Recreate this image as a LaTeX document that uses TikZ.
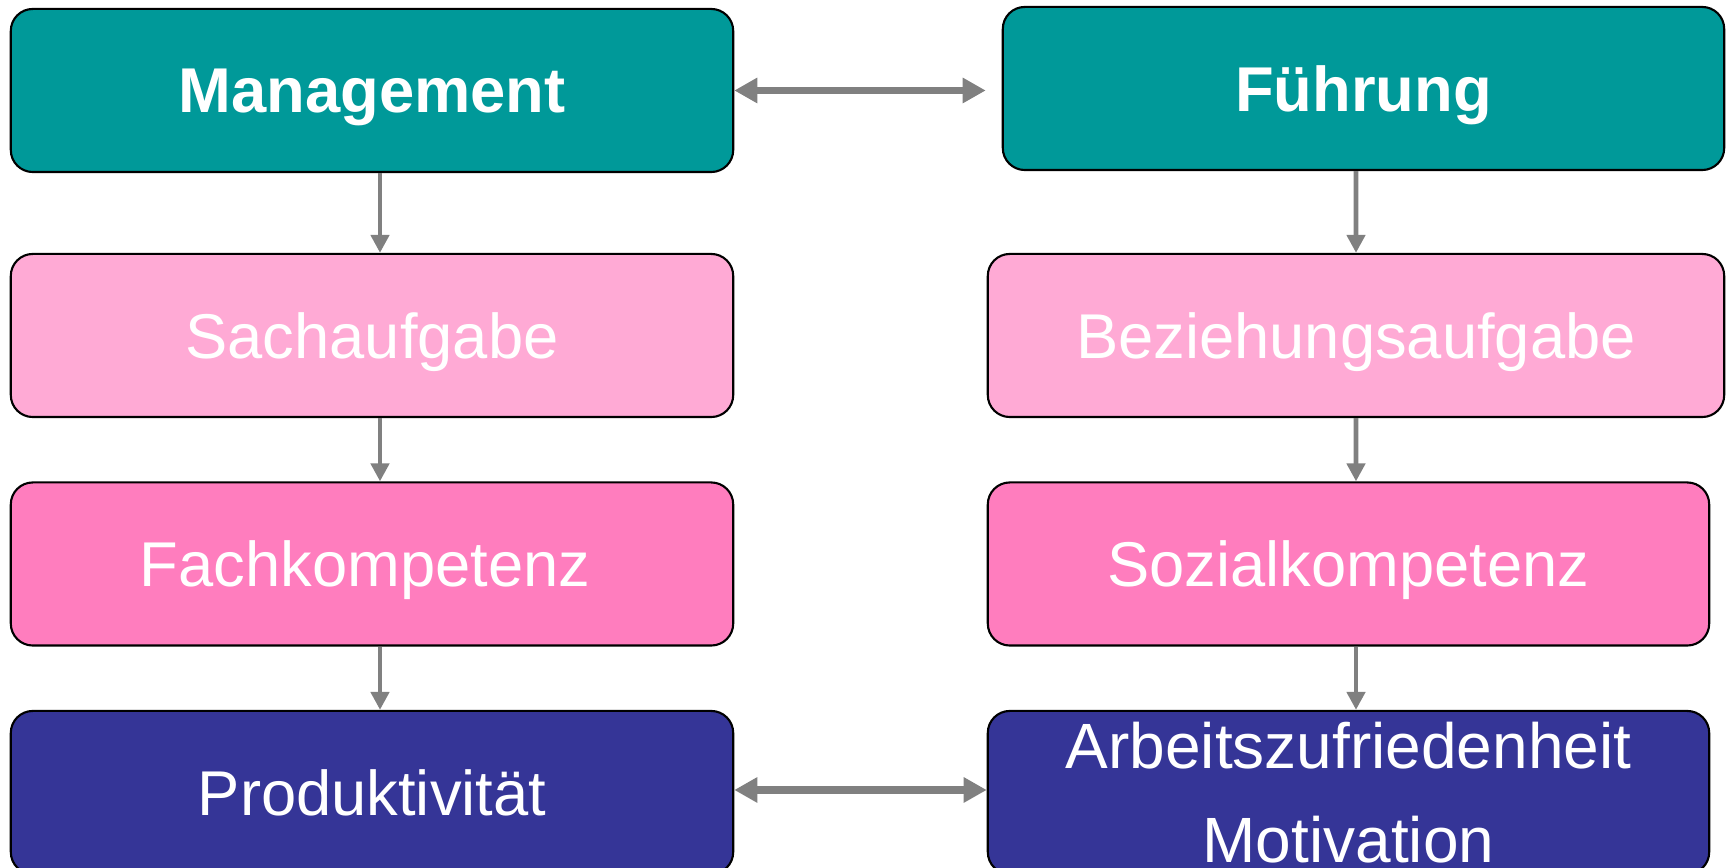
\documentclass[tikz,border=0pt]{standalone}
\usepackage{fontspec}
\setmainfont{Liberation Sans}
\usetikzlibrary{arrows.meta,calc}
\definecolor{teal1}{RGB}{0,153,153}
\definecolor{pinklight}{RGB}{255,170,213}
\definecolor{pinkmid}{RGB}{255,125,190}
\definecolor{navy1}{RGB}{53,53,151}
\definecolor{arrgray}{RGB}{128,128,128}
\begin{document}
\begin{tikzpicture}[x=0.01cm, y=-0.01cm,
		box/.style={draw=black, line width=0.6pt, rounded corners=0.22cm, inner sep=0pt, text depth=0pt, minimum height=1.63cm, text=white, font=\fontsize{18}{22}\selectfont},
		varr/.style={draw=arrgray, line width=1.4pt, -{Triangle[width=0.18cm,length=0.18cm]}},
		harr/.style={draw=arrgray, line width=2pt, {Triangle[width=0.24cm,length=0.23cm]}-{Triangle[width=0.24cm,length=0.23cm]}}]
		\useasboundingbox (0,0) rectangle (1730,868);
		\node[box, fill=teal1, minimum width=7.22cm, font=\fontsize{18}{22}\selectfont\bfseries] (mgmt) at (372,90.5) {Management};
		\node[box, fill=teal1, minimum width=7.21cm, font=\fontsize{18}{22}\selectfont\bfseries] (fuehr) at (1363.5,88.5) {Führung};
		\node[box, fill=pinklight, minimum width=7.22cm] (sach) at (372,335.5) {Sachaufgabe};
		\node[box, fill=pinklight, minimum width=7.36cm] (bez) at (1356,335.5) {Beziehungsaufgabe};
		\node[box, fill=pinkmid, minimum width=7.22cm] (fach) at (372,564) {Fachkompetenz\hspace*{0.14cm}};
		\node[box, fill=pinkmid, minimum width=7.21cm] (sozial) at (1348.5,564) {Sozialkompetenz};
		\node[box, fill=navy1, minimum width=7.22cm] (prod) at (372,792.5) {Produktivität};
		\node[box, fill=navy1, minimum width=7.21cm, align=center, font=\fontsize{18.2}{26.7}\selectfont] (arbeit) at (1348.5,792.5) {Arbeitszufriedenheit\\Motivation};
		\draw[varr] ([xshift=0.08cm]mgmt.south) -- ([xshift=0.08cm]sach.north);
		\draw[varr] ([xshift=0.08cm]sach.south) -- ([xshift=0.08cm]fach.north);
		\draw[varr] ([xshift=0.08cm]fach.south) -- ([xshift=0.08cm]prod.north);
		\draw[varr] ([xshift=-0.075cm]fuehr.south) -- (bez.north);
		\draw[varr] (bez.south) -- ([xshift=0.075cm]sozial.north);
		\draw[varr] ([xshift=0.075cm]sozial.south) -- ([xshift=0.075cm]arbeit.north);
		\draw[harr] (mgmt.east) -- ($(mgmt.east -| fuehr.west)+(-16,0)$);
		\draw[harr] ([yshift=0.025cm]prod.east) -- ([yshift=0.025cm]prod.east -| arbeit.west);
	\end{tikzpicture}
\end{document}
